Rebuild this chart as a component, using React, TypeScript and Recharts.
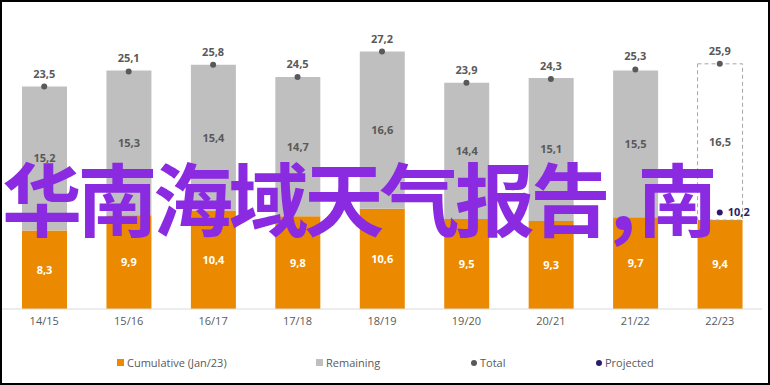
import {
  ComposedChart,
  Bar,
  Line,
  XAxis,
  YAxis,
  Legend,
  LabelList,
  Cell,
} from "recharts";

const seasons = ["14/15", "15/16", "16/17", "17/18", "18/19", "19/20", "20/21", "21/22", "22/23"];
const cumulative = [8.3, 9.9, 10.4, 9.8, 10.6, 9.5, 9.3, 9.7, 9.4];
const remaining = [15.2, 15.3, 15.4, 14.7, 16.6, 14.4, 15.1, 15.5, 16.5];
const totals = [23.5, 25.1, 25.8, 24.5, 27.2, 23.9, 24.3, 25.3, 25.9];
const projected = [null, null, null, null, null, null, null, null, 10.2];

const legendItems = [
  { label: "Cumulative (Jan/23)", color: "#eb8a00", shape: "square", x: 117 },
  { label: "Remaining", color: "#bfbfbf", shape: "square", x: 316 },
  { label: "Total", color: "#595959", shape: "circle", x: 471 },
  { label: "Projected", color: "#2e1a6b", shape: "circle", x: 596 },
];

const data = seasons.map((s, i) => ({
  season: s,
  cumulative: cumulative[i],
  remaining: remaining[i],
  total: totals[i],
  projected: projected[i],
}));

const ORANGE = "#eb8a00";
const GREY = "#bfbfbf";
const TEXT = "#595959";
const NAVY = "#2e1a6b";
const FONT = "'Open Sans', sans-serif";

const fmt = (v: any) => (v == null || v === "" ? "" : Number(v).toFixed(1).replace(".", ","));

function renderLegend() {
  return (
    <div style={{ position: "relative", width: 770, height: 20, fontFamily: FONT, fontSize: 11, color: TEXT }}>
      {legendItems.map((it) => (
        <div
          key={it.label}
          style={{ position: "absolute", left: it.x, top: 2, display: "flex", alignItems: "center", whiteSpace: "nowrap" }}
        >
          <span
            style={{
              display: "inline-block",
              width: it.shape === "square" ? 7 : 6,
              height: it.shape === "square" ? 7 : 6,
              borderRadius: it.shape === "circle" ? "50%" : 0,
              background: it.color,
              marginRight: 3,
            }}
          />
          <span>{it.label}</span>
        </div>
      ))}
    </div>
  );
}

export default function App() {
  return (
    <div style={{ position: "absolute", left: 0, top: 0, width: 770, height: 385, background: "#fff", overflow: "hidden" }}>
      <ComposedChart
        width={770}
        height={385}
        data={data}
        margin={{ top: 25, right: 8, left: 2, bottom: 12 }}
        style={{ fontFamily: FONT }}
      >
        <XAxis
          dataKey="season"
          height={44}
          tickLine={false}
          axisLine={{ stroke: "#d9d9d9" }}
          tick={{ fill: TEXT, fontSize: 11 }}
        />
        <YAxis hide domain={[0, 30]} />
        <Bar dataKey="cumulative" stackId="a" fill={ORANGE} barSize={45} isAnimationActive={false}>
          <LabelList dataKey="cumulative" position="center" fill="#fff" fontSize={11} fontWeight={700} formatter={fmt} />
        </Bar>
        <Bar dataKey="remaining" stackId="a" fill={GREY} barSize={45} isAnimationActive={false}>
          {data.map((d, i) => (
            <Cell
              key={d.season}
              fill={i === data.length - 1 ? "#ffffff" : GREY}
              stroke={i === data.length - 1 ? "#a6a6a6" : "none"}
              strokeDasharray={i === data.length - 1 ? "4 3" : undefined}
            />
          ))}
          <LabelList dataKey="remaining" position="center" fill={TEXT} fontSize={11} fontWeight={700} formatter={fmt} />
        </Bar>
        <Line
          dataKey="total"
          stroke="none"
          dot={{ r: 3, fill: TEXT, stroke: "none" }}
          activeDot={false}
          isAnimationActive={false}
        >
          <LabelList dataKey="total" position="top" offset={9} fill={TEXT} fontSize={11} fontWeight={700} formatter={fmt} />
        </Line>
        <Line
          dataKey="projected"
          stroke="none"
          dot={{ r: 3, fill: NAVY, stroke: "none" }}
          activeDot={false}
          isAnimationActive={false}
        >
          <LabelList dataKey="projected" position="right" offset={8} fill={NAVY} fontSize={11} fontWeight={700} formatter={fmt} />
        </Line>
        <Legend verticalAlign="bottom" height={20} content={renderLegend} wrapperStyle={{ left: 0, width: 770 }} />
      </ComposedChart>
      <div
        style={{
          position: "absolute",
          left: 2,
          top: 155,
          fontFamily: "'Noto Sans CJK SC', sans-serif",
          fontWeight: 700,
          fontSize: 80,
          lineHeight: 1,
          letterSpacing: -4.5,
          color: "#8a2be2",
          whiteSpace: "nowrap",
          pointerEvents: "none",
        }}
      >
        华南海域天气报告<span style={{ margin: "0 6px 0 4px" }}>,</span>南
      </div>
      <div
        style={{
          position: "absolute",
          inset: 0,
          border: "2px solid #000",
          boxSizing: "border-box",
          pointerEvents: "none",
        }}
      />
    </div>
  );
}
